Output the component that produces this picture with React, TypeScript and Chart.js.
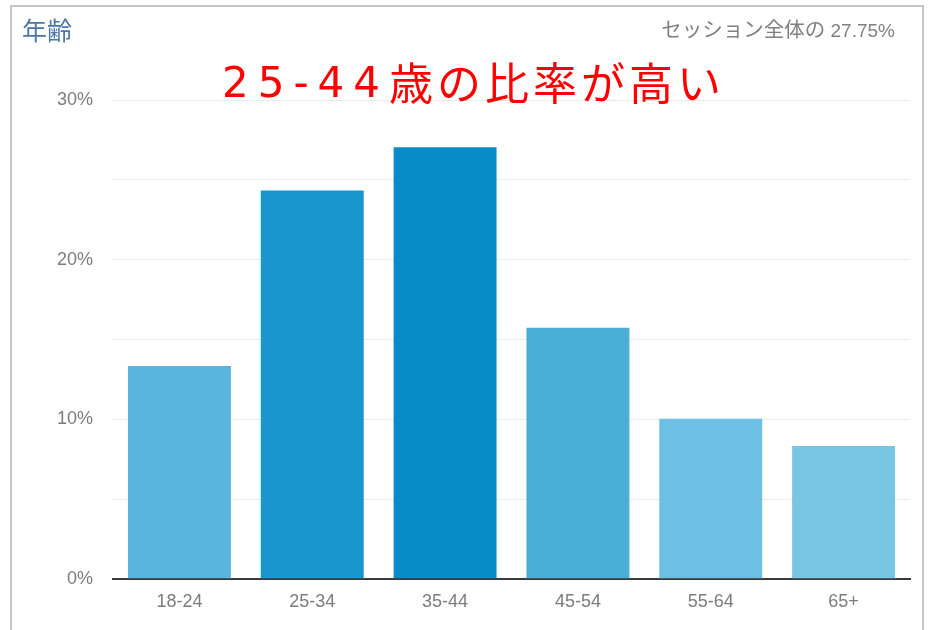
import { useEffect, useRef } from 'react';
import { Chart, registerables } from 'chart.js';

Chart.register(...registerables);

const categories = ['18-24', '25-34', '35-44', '45-54', '55-64', '65+'];
const values = [13.4, 24.4, 27.1, 15.8, 10.1, 8.4];
const barColors = ['#5ab4dc', '#1a95ce', '#078cc7', '#4aaed8', '#6dbfe3', '#79c5e4'];
const yMax = 30;
const yStep = 5;
const yLabelEvery = 10;

const chartTitle = '年齢';
const sessionLabel = 'セッション全体の';
const sessionValue = '27.75%';
const noteNumber = '25-44';
const noteText = '歳の比率が高い';

const tickFont = { family: '"Liberation Sans", Arial, sans-serif', size: 18 };
const tickColor = '#7c7c7c';

export default function App() {
  const ref = useRef<HTMLCanvasElement>(null);

  useEffect(() => {
    const chart = new Chart(ref.current!, {
      type: 'bar',
      data: {
        labels: categories,
        datasets: [
          {
            data: values,
            backgroundColor: barColors,
            borderColor: 'rgba(255,255,255,0.35)',
            borderWidth: 1,
            categoryPercentage: 1,
            barPercentage: 0.79,
          },
        ],
      },
      options: {
        responsive: false,
        animation: false,
        layout: { padding: { left: 0, right: 25, top: 100, bottom: 0 } },
        plugins: { legend: { display: false }, tooltip: { enabled: false } },
        scales: {
          x: {
            z: 1,
            grid: { display: false, drawTicks: false },
            border: { display: true, color: '#3a3a3a', width: 2 },
            ticks: { color: tickColor, font: tickFont, padding: 12 },
            afterFit: (s: any) => {
              s.height = 51;
            },
          },
          y: {
            min: 0,
            max: yMax,
            ticks: {
              stepSize: yStep,
              color: tickColor,
              font: tickFont,
              padding: 20,
              callback: (v: any) => (Number(v) % yLabelEvery === 0 ? v + '%' : ''),
            },
            grid: {
              drawTicks: false,
              lineWidth: 1,
              color: (ctx: any) => (ctx.tick && ctx.tick.value === 0 ? 'rgba(0,0,0,0)' : '#e9e9e9'),
            },
            border: { display: false },
            afterFit: (s: any) => {
              s.width = 113;
            },
          },
        },
      },
    });
    return () => chart.destroy();
  }, []);

  return (
    <div
      style={{
        position: 'absolute',
        left: 0,
        top: 0,
        width: 935,
        height: 630,
        overflow: 'hidden',
        background: '#fff',
      }}
    >
      <div
        style={{
          position: 'absolute',
          left: 10,
          top: 5,
          width: 914,
          height: 700,
          boxSizing: 'border-box',
          border: '2px solid #c6c6c6',
        }}
      />
      <canvas
        ref={ref}
        width={935}
        height={630}
        style={{ position: 'absolute', left: 0, top: 0, width: 935, height: 630 }}
      />
      <div
        style={{
          position: 'absolute',
          left: 22,
          top: 17,
          fontFamily: '"Noto Sans CJK JP", sans-serif',
          fontSize: 25,
          lineHeight: '1',
          color: '#4a76a8',
          whiteSpace: 'nowrap',
        }}
      >
        {chartTitle}
      </div>
      <div
        style={{
          position: 'absolute',
          right: 40,
          top: 18,
          fontFamily: '"Liberation Sans", Arial, "Noto Sans CJK JP", sans-serif',
          fontSize: 19,
          lineHeight: '1',
          color: '#808080',
          whiteSpace: 'nowrap',
        }}
      >
        <span style={{ fontFamily: '"Noto Sans CJK JP", sans-serif', fontSize: 20.5 }}>{sessionLabel}</span>{' '}
        {sessionValue}
      </div>
      <div
        style={{
          position: 'absolute',
          left: 222,
          top: 60,
          fontFamily: '"DejaVu Sans", sans-serif',
          fontSize: 42,
          lineHeight: '42px',
          color: '#ff0000',
          whiteSpace: 'nowrap',
        }}
      >
        <span style={{ letterSpacing: 9 }}>{noteNumber}</span>
        <span
          style={{
            fontFamily: '"Noto Sans CJK JP", sans-serif',
            fontSize: 44,
            letterSpacing: 4,
            verticalAlign: '-3px',
          }}
        >
          {noteText}
        </span>
      </div>
    </div>
  );
}
